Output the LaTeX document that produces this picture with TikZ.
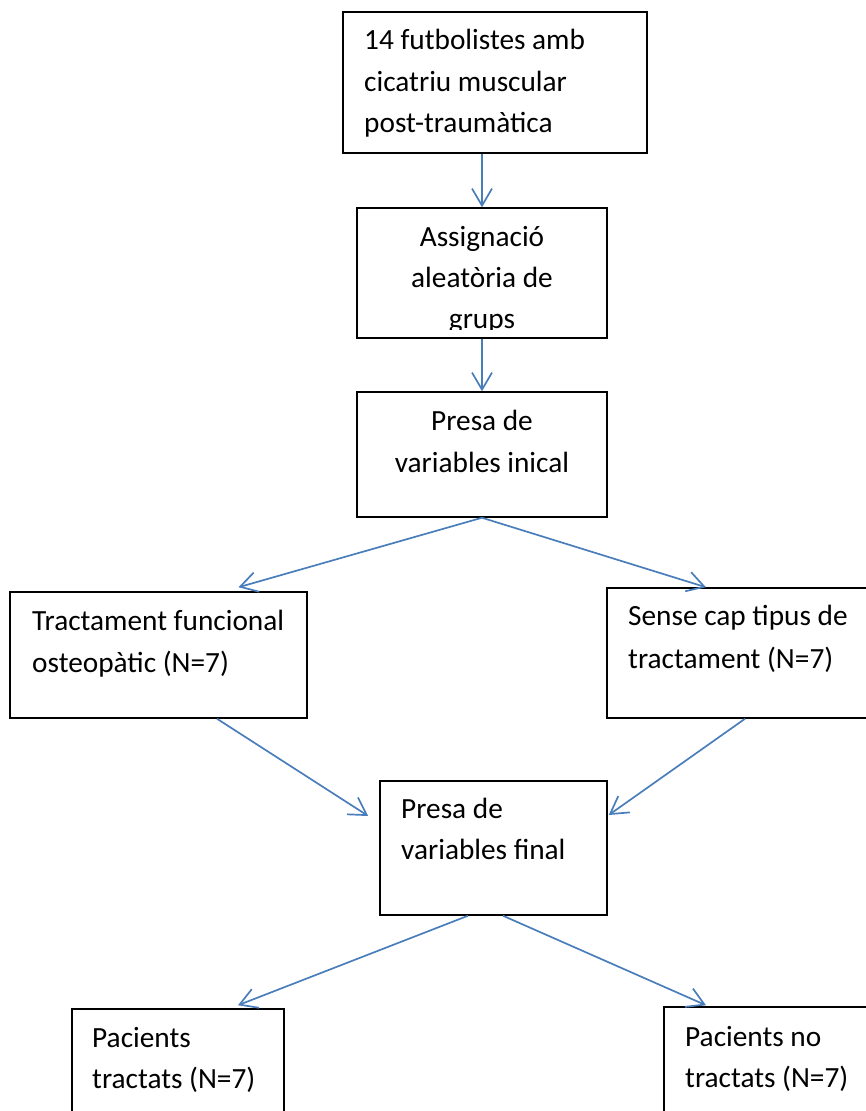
\documentclass[tikz,border=0pt]{standalone}
\usepackage{fontspec}
\setmainfont{Carlito}
\usetikzlibrary{arrows.meta}
\definecolor{conn}{HTML}{4A7EBB}
\tikzset{
  box/.style={draw=black, line width=1.5pt, rectangle, inner sep=0pt, fill=none},
  conn/.style={draw=conn, line width=1.7pt, -{Straight Barb[length=17pt,width=20pt,line width=1.7pt]}},
  txt/.style={inner sep=0pt, anchor=base west, font=\fontsize{29.3}{34}\selectfont},
  ctxt/.style={inner sep=0pt, anchor=base, font=\fontsize{29.3}{34}\selectfont}
}
\begin{document}
\begin{tikzpicture}[x=1pt,y=-1pt]
\useasboundingbox (0,0) rectangle (866,1111);
% boxes
\node[box, minimum width=304pt, minimum height=141pt] (top) at (495,82.5) {};
\node[box, minimum width=250pt, minimum height=130pt] (assign) at (482,273) {};
\node[box, minimum width=250pt, minimum height=125pt] (inic) at (482,454.5) {};
\node[box, minimum width=297pt, minimum height=126pt] (tract) at (158.5,655) {};
\node[box, minimum width=293pt, minimum height=130pt] (sense) at (753.5,653) {};
\node[box, minimum width=227pt, minimum height=134pt] (final) at (493.5,848) {};
\node[box, minimum width=212pt, minimum height=121pt] (pt) at (178,1069.5) {};
\node[box, minimum width=236pt, minimum height=123pt] (pnt) at (782,1068.5) {};
% texts
\node[txt] (t1) at (364,49) {14 futbolistes amb};
\node[txt] (t2) at (364,91) {cicatriu muscular};
\node[txt] (t3) at (364,132) {post-traumàtica};
\node[ctxt] (a1) at (482,246) {Assignació};
\node[ctxt] (a2) at (482,287) {aleatòria de};
\begin{scope}
\clip (357,208) rectangle (607,329);
\node[ctxt] (a3) at (482,328) {grups};
\end{scope}
\node[ctxt] (i1) at (482,430) {Presa de};
\node[ctxt] (i2) at (482,472) {variables inical};
\node[txt] (r1) at (32,630) {Tractament funcional};
\node[txt] (r2) at (32,672) {osteopàtic (N=7)};
\node[txt] (s1) at (628,625) {Sense cap tipus de};
\node[txt] (s2) at (628,668) {tractament (N=7)};
\node[txt] (f1) at (401,818) {Presa de};
\node[txt] (f2) at (401,859) {variables final};
\node[txt] (p1) at (92,1047) {Pacients};
\node[txt] (p2) at (92,1088) {tractats (N=7)};
\node[txt] (q1) at (685,1046) {Pacients no};
\node[txt] (q2) at (685,1087) {tractats (N=7)};
% connectors
\draw[conn] ([xshift=-13pt]top.south) -- (assign.north);
\draw[conn] (assign.south) -- (inic.north);
\draw[conn] (inic.south) -- ([xshift=80pt,yshift=4pt]tract.north);
\draw[conn] (inic.south) -- ([xshift=-47.5pt]sense.north);
\draw[conn] ([xshift=58.5pt]tract.south) -- ([xshift=-11pt,yshift=32pt]final.west);
\draw[conn] ([xshift=-8.5pt]sense.south) -- ([xshift=1pt,yshift=33pt]final.east);
\draw[conn] ([xshift=-25.5pt]final.south) -- ([xshift=60pt,yshift=3pt]pt.north);
\draw[conn] ([xshift=9.5pt]final.south) -- ([xshift=-76pt,yshift=1pt]pnt.north);
\end{tikzpicture}
\end{document}
